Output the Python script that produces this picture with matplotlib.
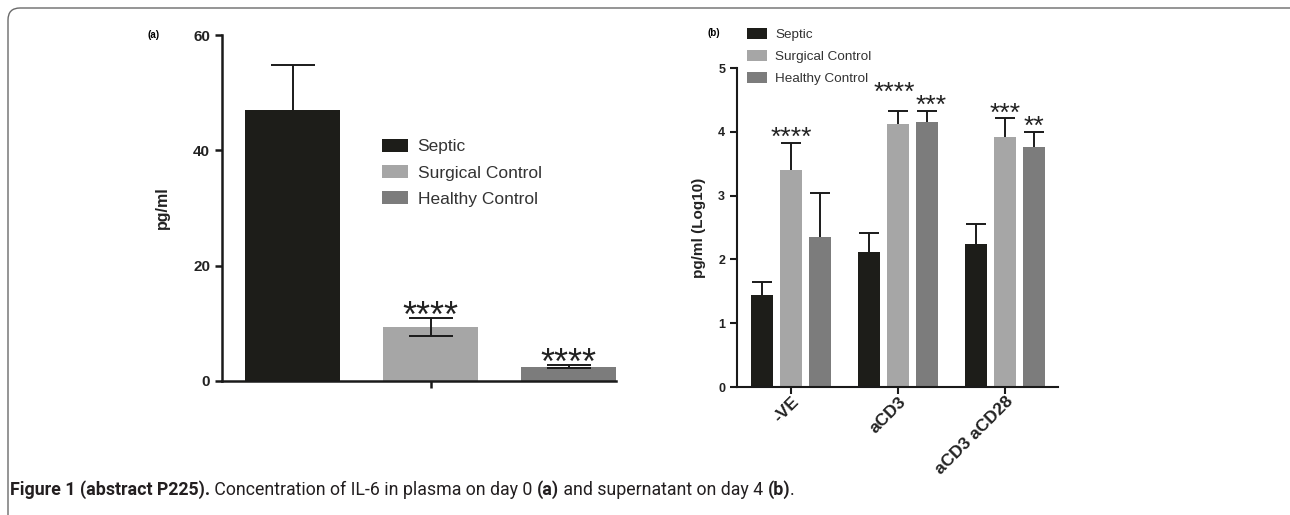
import matplotlib

matplotlib.use("Agg")
import matplotlib.pyplot as plt
import numpy as np
from matplotlib.patches import FancyBboxPatch
from matplotlib.transforms import IdentityTransform

# ---- data: panel (a), plasma day 0 ----
groups = ["Septic", "Surgical Control", "Healthy Control"]
a_means = [47.0, 9.4, 2.5]
a_err_up = [7.8, 1.6, 0.3]
a_err_down = [0.0, 1.6, 0.3]
a_stars = ["", "****", "****"]

# ---- data: panel (b), supernatant day 4 (log10) ----
b_conditions = ["-VE", "aCD3", "aCD3 aCD28"]
b_septic = [1.44, 2.12, 2.24]
b_surgical = [3.40, 4.13, 3.92]
b_healthy = [2.35, 4.15, 3.76]
b_septic_err = [0.21, 0.29, 0.31]
b_surgical_err = [0.42, 0.20, 0.29]
b_healthy_err = [0.69, 0.18, 0.24]
b_septic_stars = ["", "", ""]
b_surgical_stars = ["****", "****", "***"]
b_healthy_stars = ["", "***", "**"]
# star label nudges (points) so the two aCD3 labels don't run into each other
b_surgical_nudge = [(0, 0), (-3, 9), (0, 0)]
b_healthy_nudge = [(0, 0), (3, 0), (0, 0)]
b_septic_nudge = [(0, 0)] * 3

colors = ["#1d1d19", "#a6a6a6", "#7c7c7c"]
FONT = ["Liberation Sans", "DejaVu Sans"]
plt.rcParams["font.family"] = FONT

fig = plt.figure(figsize=(12.9, 5.15), dpi=100)


def style_axes(ax, lw):
    for s in ["top", "right"]:
        ax.spines[s].set_visible(False)
    for s in ["left", "bottom"]:
        ax.spines[s].set_linewidth(lw)
        ax.spines[s].set_color("#1a1a1a")
    ax.tick_params(direction="out", width=lw, length=5, color="#1a1a1a")


def draw_err(ax, x, y, up, down, capsize, lw):
    # one bar at a time, lower cap only when there is a lower error
    for xi, yi, u, d in zip(x, y, up, down):
        cont = ax.errorbar([xi], [yi], yerr=[[d], [u]], fmt="none", ecolor="#1a1a1a",
                           elinewidth=lw, capsize=capsize, capthick=lw, zorder=3)
        if d == 0:
            cont.lines[1][0].set_visible(False)


# ---------------- panel (a) ----------------
axa = fig.add_axes([0.1721, 0.2602, 0.3054, 0.6718])
xa = np.arange(len(groups))
axa.bar(xa, a_means, width=0.69, color=colors, label=groups, zorder=2)
draw_err(axa, xa, a_means, a_err_up, a_err_down, capsize=16, lw=1.4)
for xi, m, e, s in zip(xa, a_means, a_err_up, a_stars):
    if s:
        axa.annotate(s, (xi, m + e), xytext=(0, -12.5), textcoords="offset points",
                     ha="center", va="bottom", fontsize=26, color="#222")
axa.set_xlim(-0.514, 2.344)
axa.set_ylim(0, 60)
axa.set_yticks([0, 20, 40, 60])
axa.set_xticks([1])
axa.set_xticklabels([""])
axa.tick_params(axis="x", length=7)
for t in axa.get_yticklabels():
    t.set_fontweight("bold")
    t.set_fontsize(11)
    t.set_color("#222")
axa.set_ylabel("pg/ml", fontsize=11.5, fontweight="bold", color="#222", labelpad=17)
style_axes(axa, 1.8)
axa.legend(loc="upper left", bbox_to_anchor=(0.406, 0.70), frameon=False,
           fontsize=12.5, handlelength=1.5, handleheight=0.8, handletextpad=0.55,
           labelspacing=0.6, borderpad=0, borderaxespad=0, labelcolor="#333")
fig.text(148 / 1290, 1 - 35 / 515, "(a)", fontsize=7, fontweight="bold", va="center")

# ---------------- panel (b) ----------------
axb = fig.add_axes([0.5713, 0.2485, 0.2488, 0.6194])
xb = np.arange(len(b_conditions))
off = 0.271
bw = 0.205
series = [
    (b_septic, b_septic_err, b_septic_stars, b_septic_nudge),
    (b_surgical, b_surgical_err, b_surgical_stars, b_surgical_nudge),
    (b_healthy, b_healthy_err, b_healthy_stars, b_healthy_nudge),
]
for i, (vals, errs, stars, nudge) in enumerate(series):
    pos = xb + (i - 1) * off
    axb.bar(pos, vals, width=bw, color=colors[i], label=groups[i], zorder=2)
    draw_err(axb, pos, vals, errs, [0.0] * len(vals), capsize=7, lw=1.4)
    for p, v, e, s, (dx, dy) in zip(pos, vals, errs, stars, nudge):
        if s:
            axb.annotate(s, (p, v + e), xytext=(dx, -5 + dy), textcoords="offset points",
                         ha="center", va="bottom", fontsize=19, color="#222")
axb.set_xlim(-0.505, 2.495)
axb.set_ylim(0, 5)
axb.set_yticks(range(6))
axb.set_xticks(xb)
axb.set_xticklabels(b_conditions, rotation=45, ha="right", rotation_mode="anchor",
                    fontsize=12.5, fontweight="bold", color="#222")
for t in axb.get_yticklabels():
    t.set_fontweight("bold")
    t.set_fontsize(9)
    t.set_color("#222")
axb.set_ylabel("pg/ml (Log10)", fontsize=11, fontweight="bold", color="#222", labelpad=9)
style_axes(axb, 1.5)
axb.tick_params(axis="x", pad=0)
axb.legend(loc="upper left", bbox_to_anchor=(0.031, 1.125), frameon=False,
           fontsize=9.7, handlelength=1.5, handleheight=0.9, handletextpad=0.6,
           labelspacing=0.65, borderpad=0, borderaxespad=0, labelcolor="#333")
fig.text(707 / 1290, 1 - 33 / 515, "(b)", fontsize=7, fontweight="bold", va="center")

# ---------------- frame and caption ----------------
frame = FancyBboxPatch((8, -30), 1330, 507 + 30, boxstyle="round,pad=0,rounding_size=12",
                       transform=IdentityTransform(), fill=False, edgecolor="#6a6a6a",
                       linewidth=1.0)
fig.add_artist(frame)

cap_font = ["Liberation Sans Narrow", "Roboto", "DejaVu Sans"]
overlay = fig.add_axes([0, 0, 1, 1], zorder=-1)
overlay.axis("off")
pieces = [
    ("Figure 1 (abstract P225).", "bold"),
    (" Concentration of IL-6 in plasma on day 0 ", "normal"),
    ("(a)", "bold"),
    (" and supernatant on day 4 ", "normal"),
    ("(b)", "bold"),
    (".", "normal"),
]
prev = overlay.text(10 / 1290, 1 - 499 / 515, pieces[0][0], transform=overlay.transAxes,
                    fontsize=12.8, fontweight=pieces[0][1], family=cap_font,
                    color="#231f20", va="bottom", ha="left")
for txt, wt in pieces[1:]:
    prev = overlay.annotate(txt, xy=(1, 0), xycoords=prev, fontsize=12.8, fontweight=wt,
                            family=cap_font, color="#231f20", va="bottom", ha="left")

fig.savefig("out.png", dpi=100)
